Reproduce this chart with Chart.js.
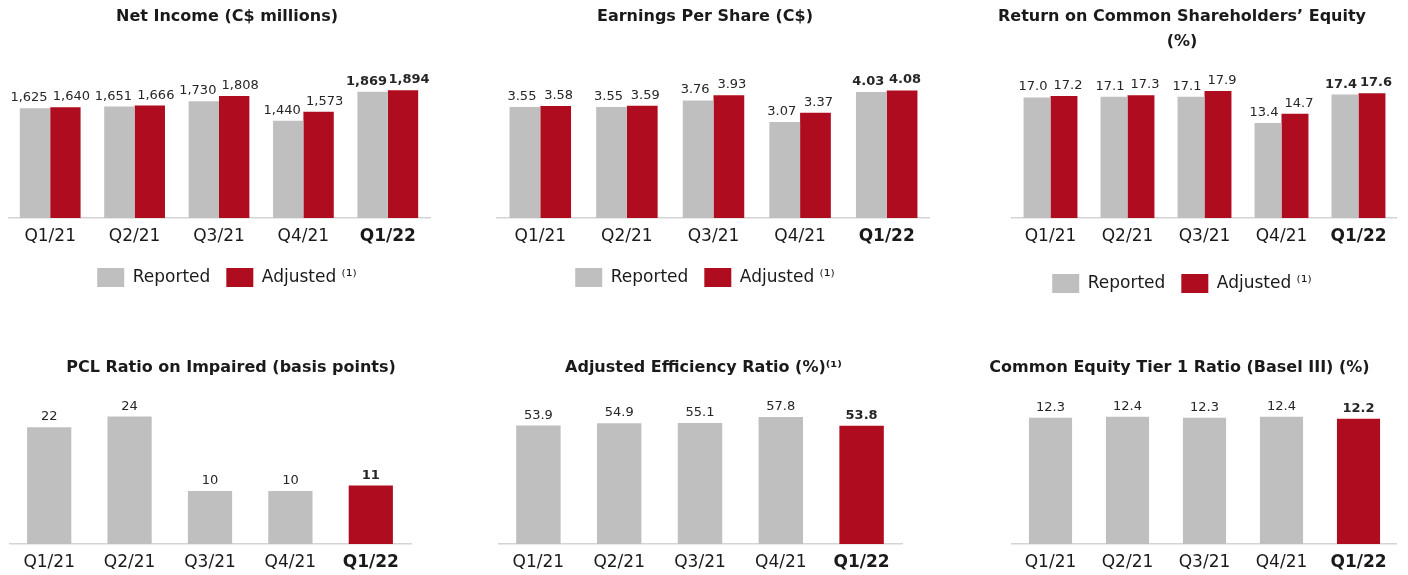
<!DOCTYPE html>
<html>
<head>
<meta charset="utf-8">
<script src="https://cdn.jsdelivr.net/npm/chart.js@4.4.1/dist/chart.umd.min.js"></script>
<style>
  html, body { margin: 0; padding: 0; background: #fff; }
  body { width: 1408px; height: 575px; position: relative; overflow: hidden; }
  .panel { position: absolute; }
</style>
</head>
<body>
<div class="panel" style="left:8px;top:0;width:438px;height:297px"><canvas id="netIncome"></canvas></div>
<div class="panel" style="left:480px;top:0;width:450px;height:297px"><canvas id="eps"></canvas></div>
<div class="panel" style="left:967px;top:0;width:430px;height:303px"><canvas id="roe"></canvas></div>
<div class="panel" style="left:9px;top:300px;width:444px;height:275px"><canvas id="pcl"></canvas></div>
<div class="panel" style="left:498px;top:300px;width:411px;height:275px"><canvas id="efficiency"></canvas></div>
<div class="panel" style="left:962px;top:300px;width:435px;height:275px"><canvas id="cet1"></canvas></div>
<script>
const quarters = ['Q1/21', 'Q2/21', 'Q3/21', 'Q4/21', 'Q1/22'];

const netIncomeReported = [1625, 1651, 1730, 1440, 1869];
const netIncomeAdjusted = [1640, 1666, 1808, 1573, 1894];
const epsReported = [3.55, 3.55, 3.76, 3.07, 4.03];
const epsAdjusted = [3.58, 3.59, 3.93, 3.37, 4.08];
const roeReported = [17.0, 17.1, 17.1, 13.4, 17.4];
const roeAdjusted = [17.2, 17.3, 17.9, 14.7, 17.6];
const pclRatio = [22, 24, 10, 10, 11];
const efficiencyRatio = [53.9, 54.9, 55.1, 57.8, 53.8];
const cet1Ratio = [12.3, 12.4, 12.3, 12.4, 12.2];

const FONT = '"DejaVu Sans", Verdana, sans-serif';
const GREY = '#bfbfbf';
const RED = '#af0d1f';
const TEXT = '#1a1a1a';

// draws the number above each bar, last quarter in bold
// with two series the labels are pushed apart a little so they don't collide
const valueLabels = {
  id: 'valueLabels',
  afterDatasetsDraw(chart, args, opts) {
    const ctx = chart.ctx;
    const n = chart.data.datasets.length;
    ctx.save();
    ctx.textAlign = 'center';
    ctx.textBaseline = 'alphabetic';
    ctx.fillStyle = '#262626';
    chart.data.datasets.forEach((ds, di) => {
      const shift = n > 1 ? (di === 0 ? -opts.spread : opts.spread) : 0;
      chart.getDatasetMeta(di).data.forEach((bar, i) => {
        const last = i === ds.data.length - 1;
        ctx.font = (last ? 'bold ' : '') + '13px ' + FONT;
        const txt = ds.data[i].toLocaleString('en-US', {
          minimumFractionDigits: opts.decimals,
          maximumFractionDigits: opts.decimals
        });
        ctx.fillText(txt, bar.x + shift, bar.y - 7);
      });
    });
    ctx.restore();
  }
};

function makeChart(id, cfg) {
  const twoSeries = cfg.datasets.length > 1;
  return new Chart(document.getElementById(id), {
    type: 'bar',
    data: { labels: quarters, datasets: cfg.datasets },
    plugins: [valueLabels],
    options: {
      responsive: true,
      maintainAspectRatio: false,
      animation: false,
      layout: { padding: 0 },
      datasets: {
        bar: {
          barPercentage: 1,
          categoryPercentage: cfg.catPct,
          borderWidth: 0
        }
      },
      plugins: {
        tooltip: { enabled: false },
        valueLabels: { decimals: cfg.decimals, spread: cfg.spread || 0 },
        title: {
          display: true,
          text: cfg.title,
          color: TEXT,
          font: { family: FONT, size: 16, weight: 'bold', lineHeight: '25px' },
          padding: { top: cfg.titleTop, bottom: cfg.titleBottom }
        },
        legend: {
          display: twoSeries,
          position: 'bottom',
          labels: {
            boxWidth: 27,
            boxHeight: 19,
            padding: 16,
            color: TEXT,
            font: { family: FONT, size: 17 }
          }
        }
      },
      scales: {
        x: {
          grid: { display: false, drawTicks: false },
          border: { display: true, color: '#d4d4d4', width: 1.5 },
          ticks: {
            color: TEXT,
            padding: 8,
            font: (c) => ({ family: FONT, size: 17, weight: c.index === 4 ? 'bold' : 'normal' })
          },
          afterFit: (s) => { s.height = cfg.xHeight; }
        },
        y: {
          position: cfg.ySide,
          min: 0,
          max: cfg.yMax,
          grid: { display: false, drawTicks: false },
          border: { display: false },
          ticks: { display: false },
          afterFit: (s) => { s.width = cfg.yWidth; }
        }
      }
    }
  });
}

makeChart('netIncome', {
  title: 'Net Income (C$ millions)',
  datasets: [
    { label: 'Reported', data: netIncomeReported, backgroundColor: GREY },
    { label: 'Adjusted ⁽¹⁾', data: netIncomeAdjusted, backgroundColor: RED }
  ],
  decimals: 0, spread: 6, catPct: 0.72, yMax: 2341,
  ySide: 'right', yWidth: 16, xHeight: 34, titleTop: 4.5, titleBottom: 30.5
});

makeChart('eps', {
  title: 'Earnings Per Share (C$)',
  datasets: [
    { label: 'Reported', data: epsReported, backgroundColor: GREY },
    { label: 'Adjusted ⁽¹⁾', data: epsAdjusted, backgroundColor: RED }
  ],
  decimals: 2, spread: 3, catPct: 0.71, yMax: 5.055,
  ySide: 'left', yWidth: 17, xHeight: 34, titleTop: 4.5, titleBottom: 30.5
});

makeChart('roe', {
  title: ['Return on Common Shareholders’ Equity', '(%)'],
  datasets: [
    { label: 'Reported', data: roeReported, backgroundColor: GREY },
    { label: 'Adjusted ⁽¹⁾', data: roeAdjusted, backgroundColor: RED }
  ],
  decimals: 1, spread: 4, catPct: 0.70, yMax: 22.27,
  ySide: 'left', yWidth: 45, xHeight: 40, titleTop: 4.5, titleBottom: 5.5
});

const singleColors = [GREY, GREY, GREY, GREY, RED];

makeChart('pcl', {
  title: 'PCL Ratio on Impaired (basis points)',
  datasets: [{ label: 'PCL Ratio', data: pclRatio, backgroundColor: singleColors }],
  decimals: 0, catPct: 0.55, yMax: 28.06,
  ySide: 'right', yWidth: 42, xHeight: 31, titleTop: 55.5, titleBottom: 14.5
});

makeChart('efficiency', {
  title: 'Adjusted Efficiency Ratio (%)⁽¹⁾',
  datasets: [{ label: 'Efficiency Ratio', data: efficiencyRatio, backgroundColor: singleColors }],
  decimals: 1, catPct: 0.55, yMax: 67.8,
  ySide: 'right', yWidth: 7, xHeight: 31, titleTop: 55.5, titleBottom: 14.5
});

makeChart('cet1', {
  title: 'Common Equity Tier 1 Ratio (Basel III) (%)',
  datasets: [{ label: 'CET1 Ratio', data: cet1Ratio, backgroundColor: singleColors }],
  decimals: 1, catPct: 0.56, yMax: 14.51,
  ySide: 'left', yWidth: 50, xHeight: 31, titleTop: 55.5, titleBottom: 14.5
});
</script>
</body>
</html>
